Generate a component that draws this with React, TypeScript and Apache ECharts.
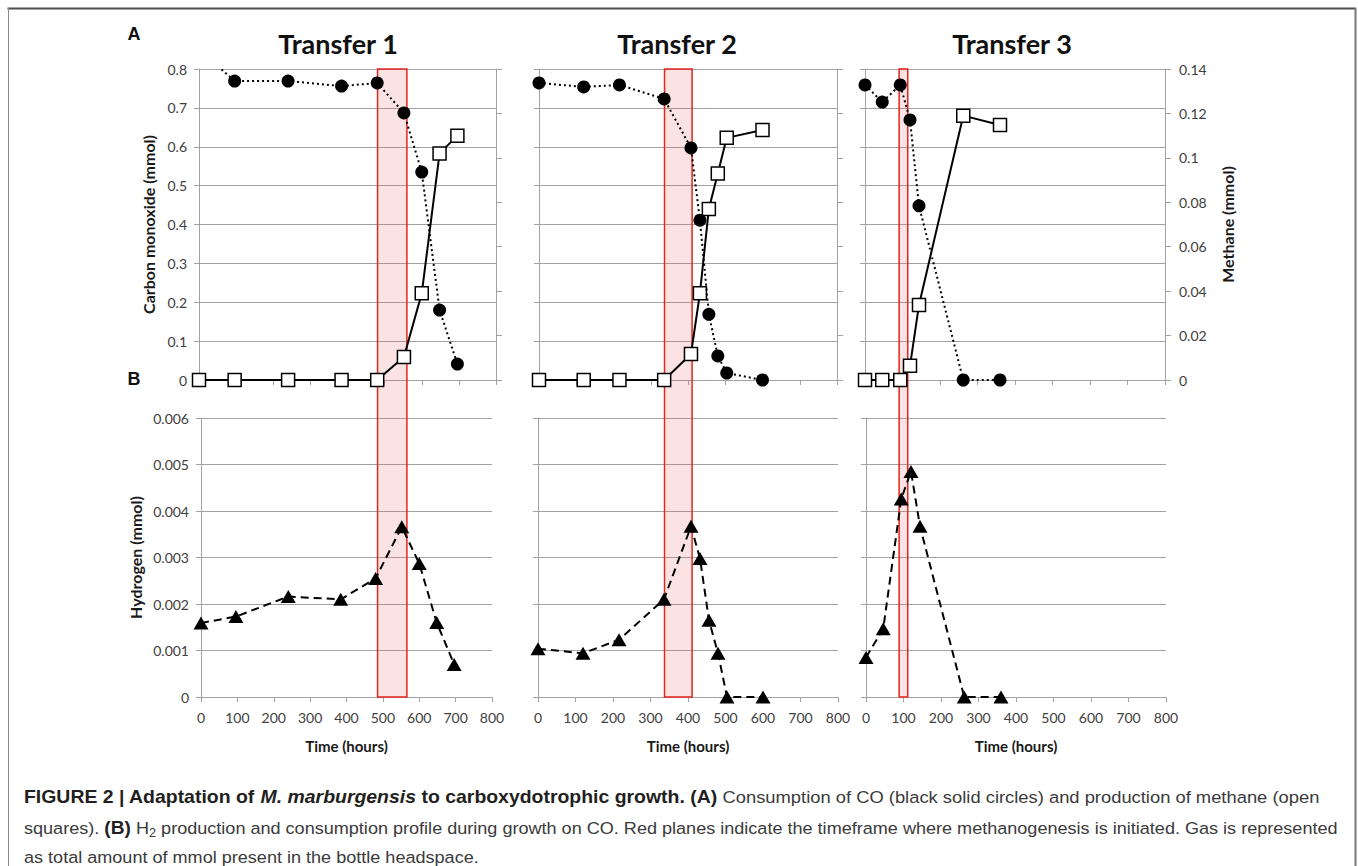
import React, { useEffect, useRef } from "react";
import * as echarts from "echarts";

const PANEL_TITLES = ["Transfer 1", "Transfer 2", "Transfer 3"];

const TIME_T1 = [0, 96, 240, 384, 480, 552, 600, 648, 696];
const CO_T1 = [0.85, 0.769, 0.769, 0.756, 0.764, 0.687, 0.535, 0.18, 0.041];
const CH4_T1 = [0, 0, 0, 0, 0, 0.0104, 0.039, 0.102, 0.11];
const H2_T1 = [0.00159, 0.00173, 0.00216, 0.0021, 0.00255, 0.00366, 0.00287, 0.0016, 0.0007];

const TIME_T2 = [0, 120, 216, 336, 408, 432, 456, 480, 504, 600];
const CO_T2 = [0.764, 0.754, 0.759, 0.723, 0.597, 0.411, 0.169, 0.062, 0.018, 0];
const CH4_T2 = [0, 0, 0, 0, 0.0117, 0.039, 0.077, 0.093, 0.109, 0.1125];
const H2_T2 = [0.00104, 0.00094, 0.00123, 0.0021, 0.00367, 0.00298, 0.00165, 0.00094, 0, 0];

const TIME_T3 = [0, 46, 94, 120, 144, 262, 360];
const CO_T3 = [0.759, 0.715, 0.759, 0.669, 0.448, 0, 0];
const CH4_T3 = [0, 0, 0, 0.0064, 0.0338, 0.119, 0.1148];
const H2_T3 = [0.00085, 0.00147, 0.00426, 0.00485, 0.00367, 0, 0];

// timeframe where methanogenesis is initiated (hours)
const ONSET_START = [481, 337, 91];
const ONSET_END = [560, 411, 114];

const TIME_RANGE = [0, 800, 100];
const CO_RANGE = [0, 0.8, 0.1];
const CH4_RANGE = [0, 0.14, 0.02];
const H2_RANGE = [0, 0.006, 0.001];

const CAPTION_LINES = [
  "{b|FIGURE 2 | Adaptation of }{bi|M. marburgensis}{b| to carboxydotrophic growth. (A)}{n| Consumption of CO (black solid circles) and production of methane (open}",
  "{n|squares). }{b|(B)}{n| H}{sub|2}{n| production and consumption profile during growth on CO. Red planes indicate the timeframe where methanogenesis is initiated. Gas is represented}",
  "{n|as total amount of mmol present in the bottle headspace.}",
];

const TIMES = [TIME_T1, TIME_T2, TIME_T3];
const COS = [CO_T1, CO_T2, CO_T3];
const CH4S = [CH4_T1, CH4_T2, CH4_T3];
const H2S = [H2_T1, H2_T2, H2_T3];

const FONT = "Lato, 'Open Sans', sans-serif";
const GRID_COLOR = "#a2a2a2";
const LABEL_COLOR = "#404040";

const TOP_GRIDS = [
  { left: 199, width: 297 },
  { left: 539, width: 298 },
  { left: 865, width: 300 },
];
const BOTTOM_GRIDS = [
  { left: 201, width: 291 },
  { left: 538, width: 300 },
  { left: 866, width: 300 },
];
const TITLE_X = [338, 677, 1012];
const CAPTION_Y = [797, 828, 857];
const CAPTION_SCALE = [1.08, 1.063, 1.063];

const zip = (xs: number[], ys: number[]) => xs.map((x, i) => [x, ys[i]]);

function makeOption(): any {
  const grid: any[] = [];
  TOP_GRIDS.forEach((g) => grid.push({ left: g.left, width: g.width, top: 69, height: 311, outerBoundsMode: "none" }));
  BOTTOM_GRIDS.forEach((g) => grid.push({ left: g.left, width: g.width, top: 418, height: 279, outerBoundsMode: "none" }));

  const line = { show: true, onZero: false, lineStyle: { color: GRID_COLOR, width: 1 } };
  const tick = (len: number) => ({ show: true, length: len, inside: false, lineStyle: { color: GRID_COLOR, width: 1 } });
  const lbl = (show: boolean, margin: number) => ({
    show,
    color: LABEL_COLOR,
    fontFamily: FONT,
    fontSize: 14,
    margin,
    showMinLabel: true,
    showMaxLabel: true,
  });
  const xNameStyle = { fontFamily: FONT, fontWeight: "bold", fontSize: 15, color: "#1a1a1a" };
  const yNameStyle = { fontFamily: FONT, fontWeight: "bold", fontSize: 16, color: "#1a1a1a" };

  const xAxis: any[] = [];
  for (let i = 0; i < 3; i++) {
    xAxis.push({
      type: "value", gridIndex: i, min: TIME_RANGE[0], max: TIME_RANGE[1], interval: TIME_RANGE[2],
      axisLine: line, axisTick: tick(5), axisLabel: { show: false }, splitLine: { show: false },
    });
  }
  for (let i = 0; i < 3; i++) {
    xAxis.push({
      type: "value", gridIndex: 3 + i, min: TIME_RANGE[0], max: TIME_RANGE[1], interval: TIME_RANGE[2],
      axisLine: line, axisTick: tick(5), axisLabel: lbl(true, 13), splitLine: { show: false },
      name: "Time (hours)", nameLocation: "middle", nameGap: 41, nameTextStyle: xNameStyle,
    });
  }

  const yAxis: any[] = [];
  for (let i = 0; i < 3; i++) {
    yAxis.push({
      type: "value", gridIndex: i, position: "left", min: CO_RANGE[0], max: CO_RANGE[1], interval: CO_RANGE[2],
      axisLine: line, axisTick: tick(5), axisLabel: lbl(i === 0, 12),
      splitLine: { show: true, lineStyle: { color: GRID_COLOR, width: 1 } },
      name: i === 0 ? "Carbon monoxide (mmol)" : "", nameLocation: "middle", nameRotate: 90, nameGap: 43,
      nameTextStyle: yNameStyle,
    });
  }
  for (let i = 0; i < 3; i++) {
    yAxis.push({
      type: "value", gridIndex: i, position: "right", min: CH4_RANGE[0], max: CH4_RANGE[1], interval: CH4_RANGE[2],
      axisLine: line, axisTick: tick(6), axisLabel: lbl(i === 2, 14), splitLine: { show: false },
      name: i === 2 ? "Methane (mmol)" : "", nameLocation: "middle", nameRotate: 90, nameGap: 54,
      nameTextStyle: yNameStyle,
    });
  }
  for (let i = 0; i < 3; i++) {
    yAxis.push({
      type: "value", gridIndex: 3 + i, position: "left", min: H2_RANGE[0], max: H2_RANGE[1], interval: H2_RANGE[2],
      axisLine: line, axisTick: tick(5), axisLabel: lbl(i === 0, 12),
      splitLine: { show: true, lineStyle: { color: GRID_COLOR, width: 1 } },
      name: i === 0 ? "Hydrogen (mmol)" : "", nameLocation: "middle", nameRotate: 90, nameGap: 58,
      nameTextStyle: yNameStyle,
    });
  }

  const series: any[] = [];
  for (let i = 0; i < 3; i++) {
    series.push({
      type: "line", name: "CH4 " + (i + 1), xAxisIndex: i, yAxisIndex: 3 + i, data: zip(TIMES[i], CH4S[i]),
      symbol: "rect", symbolSize: 13, clip: true, silent: true,
      lineStyle: { color: "#000", width: 2, type: "solid" },
      itemStyle: { color: "#fff", borderColor: "#000", borderWidth: 1.5 },
      z: 3,
    });
    series.push({
      type: "line", name: "CO " + (i + 1), xAxisIndex: i, yAxisIndex: i, data: zip(TIMES[i], COS[i]),
      symbol: "circle", symbolSize: 13, clip: true, silent: true,
      lineStyle: { color: "#000", width: 2, type: [2, 3] },
      itemStyle: { color: "#000" },
      z: 4,
    });
    series.push({
      type: "line", name: "H2 " + (i + 1), xAxisIndex: 3 + i, yAxisIndex: 6 + i, data: zip(TIMES[i], H2S[i]),
      symbol: "triangle", symbolSize: [15, 13], clip: false, silent: true,
      lineStyle: { color: "#000", width: 2, type: [8, 5] },
      itemStyle: { color: "#000" },
      z: 3,
    });
  }

  return { animation: false, backgroundColor: "#fff", grid, xAxis, yAxis, series };
}

function staticGraphics(): any[] {
  const g: any[] = [];
  // frame
  g.push({ type: "line", shape: { x1: 7.5, y1: 8.5, x2: 1356, y2: 8.5 }, style: { stroke: "#4d4d4d", lineWidth: 2 }, silent: true });
  g.push({ type: "line", shape: { x1: 8.5, y1: 8, x2: 8.5, y2: 866 }, style: { stroke: "#8a8a8a", lineWidth: 1 }, silent: true });
  g.push({ type: "line", shape: { x1: 1355.5, y1: 8, x2: 1355.5, y2: 866 }, style: { stroke: "#777", lineWidth: 2 }, silent: true });
  // panel letters
  g.push({ type: "text", x: 134, y: 34, style: { text: "A", fontFamily: "'Liberation Sans', Arial, sans-serif", fontWeight: "bold", fontSize: 18, fill: "#111", align: "center", verticalAlign: "middle" }, silent: true });
  g.push({ type: "text", x: 134, y: 379, style: { text: "B", fontFamily: "'Liberation Sans', Arial, sans-serif", fontWeight: "bold", fontSize: 18, fill: "#111", align: "center", verticalAlign: "middle" }, silent: true });
  // titles
  PANEL_TITLES.forEach((t, i) => {
    g.push({ type: "text", x: TITLE_X[i], y: 43, style: { text: t, fontFamily: FONT, fontWeight: "bold", fontSize: 27, fill: "#111", align: "center", verticalAlign: "middle" }, silent: true });
  });
  // caption
  const capFont = "'Liberation Sans', Arial, sans-serif";
  const rich = {
    b: { fontFamily: capFont, fontWeight: "bold", fontSize: 18, fill: "#231f20", lineHeight: 22 },
    bi: { fontFamily: capFont, fontWeight: "bold", fontStyle: "italic", fontSize: 18, fill: "#231f20", lineHeight: 22 },
    n: { fontFamily: capFont, fontWeight: "normal", fontSize: 17, fill: "#3a3a3a", lineHeight: 22 },
    sub: { fontFamily: capFont, fontWeight: "normal", fontSize: 12, fill: "#3a3a3a", lineHeight: 12, verticalAlign: "bottom" },
  };
  CAPTION_LINES.forEach((t, i) => {
    g.push({ type: "text", x: 24, y: CAPTION_Y[i], scaleX: CAPTION_SCALE[i], style: { text: t, rich, align: "left", verticalAlign: "middle" }, silent: true });
  });
  return g;
}

export default function App() {
  const ref = useRef<HTMLDivElement>(null);
  useEffect(() => {
    if (!ref.current) return;
    const chart = echarts.init(ref.current, null, { renderer: "svg" });
    chart.setOption(makeOption());
    const rects: any[] = [];
    for (let i = 0; i < 3; i++) {
      const x1 = chart.convertToPixel({ xAxisIndex: i } as any, ONSET_START[i]) as unknown as number;
      const x2 = chart.convertToPixel({ xAxisIndex: i } as any, ONSET_END[i]) as unknown as number;
      const yTop = chart.convertToPixel({ yAxisIndex: i } as any, CO_RANGE[1]) as unknown as number;
      const yBot = chart.convertToPixel({ yAxisIndex: 6 + i } as any, H2_RANGE[0]) as unknown as number;
      rects.push({
        type: "rect", z: 1, silent: true,
        shape: { x: x1, y: yTop, width: x2 - x1, height: yBot - yTop },
        style: { fill: "rgba(238, 90, 90, 0.17)", stroke: "#e3261f", lineWidth: 1.5 },
      });
    }
    chart.setOption({ graphic: [...staticGraphics(), ...rects] });
    return () => chart.dispose();
  }, []);
  return (
    <div
      ref={ref}
      style={{ position: "fixed", left: 0, top: 0, width: 1358, height: 866, background: "#fff" }}
    />
  );
}
